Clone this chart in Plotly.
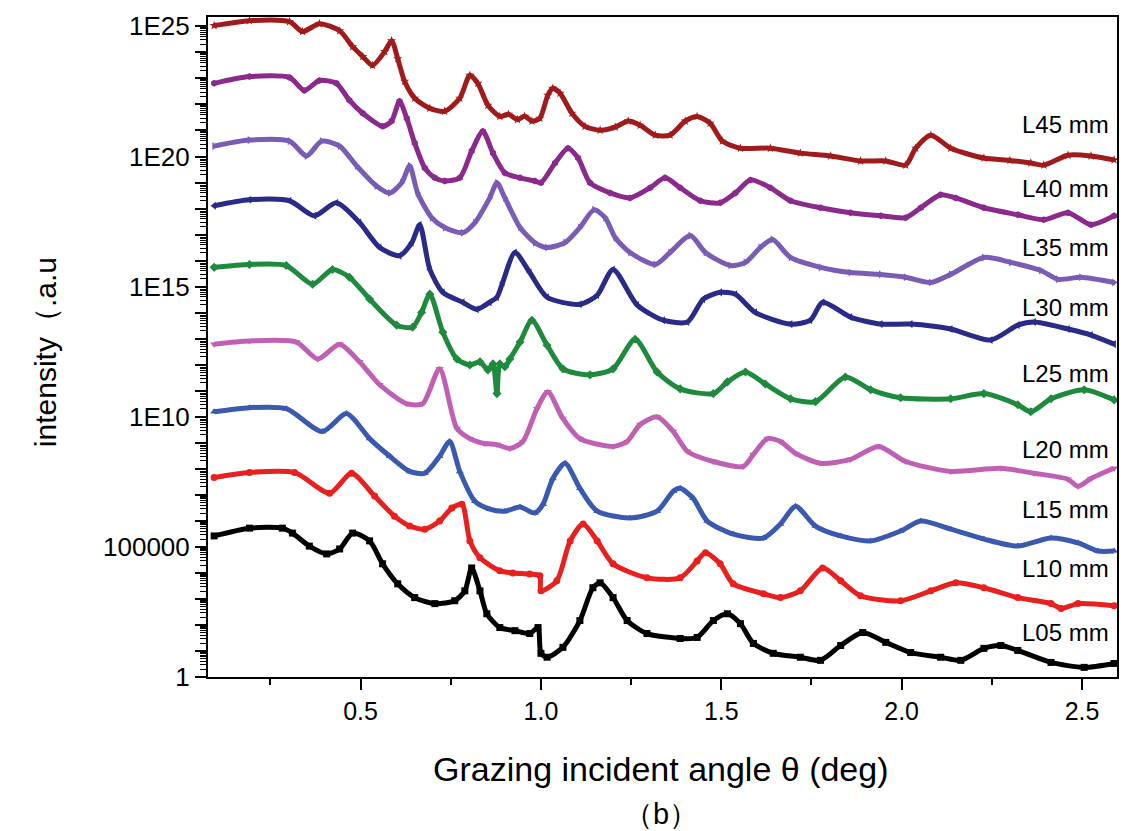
import plotly.graph_objects as go

# ---------------- data (x = grazing angle in deg, values = log10 intensity) -------------
names = ["L05 mm", "L10 mm", "L15 mm", "L20 mm", "L25 mm", "L30 mm", "L35 mm", "L40 mm", "L45 mm"]

x_L05 = [0.094, 0.192, 0.283, 0.311, 0.358, 0.406, 0.442, 0.478, 0.525, 0.561, 0.603, 0.65, 0.706, 0.761, 0.789,
         0.808, 0.831, 0.85, 0.886, 0.928, 0.969, 0.992, 1.0, 1.017, 1.061, 1.108, 1.144, 1.164, 1.2, 1.239,
         1.294, 1.386, 1.433, 1.478, 1.517, 1.553, 1.589, 1.644, 1.719, 1.775, 1.831, 1.892, 1.956, 2.025, 2.108,
         2.164, 2.228, 2.275, 2.322, 2.414, 2.506, 2.589]
lg_L05 = [5.42, 5.72, 5.72, 5.53, 5.03, 4.73, 4.92, 5.53, 5.23, 4.35, 3.58, 3.05, 2.82, 2.93, 3.31,
          4.19, 3.31, 2.43, 1.90, 1.78, 1.67, 1.90, 0.91, 0.76, 1.14, 2.17, 3.43, 3.62, 3.05, 2.17,
          1.67, 1.48, 1.52, 2.17, 2.43, 2.05, 1.29, 0.91, 0.76, 0.64, 1.21, 1.71, 1.33, 0.94, 0.76,
          0.64, 1.10, 1.21, 1.02, 0.56, 0.37, 0.52]

x_L10 = [0.094, 0.192, 0.317, 0.414, 0.475, 0.539, 0.594, 0.636, 0.678, 0.719, 0.753, 0.781, 0.803, 0.831, 0.886,
         0.922, 0.969, 0.997, 1.0, 1.044, 1.081, 1.117, 1.156, 1.2, 1.294, 1.386, 1.433, 1.456, 1.497, 1.533,
         1.617, 1.664, 1.719, 1.781, 1.831, 1.886, 1.997, 2.081, 2.15, 2.228, 2.322, 2.414, 2.442, 2.489, 2.589]
lg_L10 = [7.67, 7.86, 7.86, 7.06, 7.83, 6.95, 6.18, 5.80, 5.68, 5.99, 6.49, 6.64, 5.23, 4.58, 4.08,
          4.00, 3.96, 3.89, 3.31, 3.70, 5.23, 5.88, 5.23, 4.35, 3.81, 3.81, 4.46, 4.77, 4.35, 3.58,
          3.20, 3.05, 3.31, 4.19, 3.70, 3.12, 2.93, 3.31, 3.62, 3.43, 3.05, 2.82, 2.63, 2.82, 2.74]

x_L15 = [0.094, 0.192, 0.294, 0.394, 0.461, 0.525, 0.581, 0.636, 0.678, 0.719, 0.747, 0.775, 0.817, 0.858, 0.9,
         0.942, 0.983, 1.006, 1.033, 1.067, 1.108, 1.156, 1.247, 1.322, 1.367, 1.386, 1.422, 1.461, 1.533, 1.617,
         1.664, 1.706, 1.761, 1.831, 1.914, 1.997, 2.053, 2.136, 2.228, 2.322, 2.414, 2.489, 2.544, 2.589]
lg_L15 = [10.19, 10.35, 10.31, 9.43, 10.12, 9.16, 8.48, 7.90, 7.83, 8.48, 9.05, 7.90, 6.75, 6.45, 6.37,
          6.53, 6.30, 6.64, 7.63, 8.21, 7.25, 6.37, 6.11, 6.37, 7.14, 7.25, 6.87, 5.99, 5.49, 5.34,
          5.88, 6.56, 5.80, 5.42, 5.23, 5.61, 5.99, 5.68, 5.30, 5.03, 5.34, 5.15, 4.84, 4.84]

x_L20 = [0.094, 0.192, 0.322, 0.381, 0.442, 0.497, 0.553, 0.628, 0.672, 0.719, 0.767, 0.803, 0.844, 0.878, 0.914,
         0.95, 0.989, 1.019, 1.061, 1.108, 1.2, 1.239, 1.275, 1.322, 1.367, 1.406, 1.478, 1.561, 1.589, 1.628,
         1.664, 1.706, 1.775, 1.858, 1.936, 2.011, 2.136, 2.275, 2.367, 2.461, 2.489, 2.525, 2.589]
lg_L20 = [12.79, 12.91, 12.87, 12.22, 12.79, 12.11, 11.23, 10.50, 10.50, 11.84, 9.55, 9.16, 8.97, 8.93, 8.78,
          9.05, 10.31, 10.96, 9.93, 9.16, 8.86, 9.05, 9.70, 10.00, 9.43, 8.67, 8.28, 8.09, 8.55, 9.16,
          9.05, 8.59, 8.21, 8.36, 8.86, 8.28, 7.90, 8.02, 7.83, 7.60, 7.33, 7.63, 8.02]

x_L25 = [0.094, 0.192, 0.294, 0.367, 0.422, 0.469, 0.525, 0.6, 0.644, 0.669, 0.692, 0.728, 0.767, 0.803, 0.831,
         0.853, 0.867, 0.878, 0.886, 0.9, 0.914, 0.942, 0.975, 1.017, 1.061, 1.136, 1.2, 1.261, 1.322, 1.386,
         1.478, 1.517, 1.567, 1.622, 1.692, 1.761, 1.844, 1.914, 1.997, 2.136, 2.228, 2.322, 2.358, 2.414, 2.506,
         2.589]
lg_L25 = [15.74, 15.85, 15.81, 15.09, 15.66, 15.36, 14.52, 13.52, 13.44, 14.01, 14.71, 13.25, 12.22, 11.99, 12.11,
          11.80, 12.03, 10.89, 12.03, 11.92, 12.22, 12.87, 13.71, 12.75, 11.84, 11.61, 11.84, 12.98, 11.72, 11.07,
          10.89, 11.34, 11.72, 11.26, 10.69, 10.58, 11.53, 11.04, 10.73, 10.69, 10.89, 10.46, 10.19, 10.69, 11.04,
          10.65]

x_L30 = [0.094, 0.192, 0.303, 0.372, 0.433, 0.497, 0.553, 0.608, 0.642, 0.664, 0.692, 0.728, 0.783, 0.822, 0.858,
         0.878, 0.894, 0.928, 0.969, 1.017, 1.108, 1.156, 1.2, 1.267, 1.339, 1.406, 1.45, 1.497, 1.539, 1.594,
         1.692, 1.747, 1.781, 1.858, 1.942, 2.025, 2.136, 2.247, 2.322, 2.367, 2.461, 2.525, 2.589]
lg_L30 = [18.11, 18.34, 18.30, 17.72, 18.22, 17.46, 16.50, 16.19, 16.69, 17.38, 15.66, 14.78, 14.40, 14.13, 14.40,
          14.59, 15.16, 16.31, 15.54, 14.59, 14.32, 14.67, 15.66, 14.29, 13.71, 13.64, 14.52, 14.78, 14.71, 14.01,
          13.56, 13.71, 14.40, 13.83, 13.56, 13.56, 13.37, 12.95, 13.52, 13.64, 13.37, 13.14, 12.79]

x_L35 = [0.094, 0.192, 0.303, 0.35, 0.392, 0.442, 0.489, 0.544, 0.581, 0.614, 0.636, 0.658, 0.697, 0.733, 0.783,
         0.817, 0.858, 0.878, 0.9, 0.942, 0.983, 1.017, 1.067, 1.108, 1.147, 1.178, 1.206, 1.247, 1.317, 1.358,
         1.414, 1.456, 1.525, 1.567, 1.608, 1.642, 1.692, 1.775, 1.858, 1.942, 2.011, 2.081, 2.136, 2.228, 2.303,
         2.386, 2.433, 2.497, 2.589]
lg_L35 = [20.40, 20.63, 20.59, 20.02, 20.59, 20.40, 19.64, 18.87, 18.60, 18.99, 19.64, 18.60, 17.65, 17.27, 17.07,
          17.46, 18.41, 18.99, 18.41, 17.27, 16.69, 16.50, 16.69, 17.27, 17.95, 17.65, 16.88, 16.31, 15.85, 16.31,
          16.96, 16.31, 15.81, 15.93, 16.50, 16.81, 16.12, 15.74, 15.54, 15.47, 15.36, 15.16, 15.47, 16.12, 15.93,
          15.62, 15.28, 15.36, 15.16]

x_L40 = [0.094, 0.192, 0.303, 0.344, 0.386, 0.433, 0.469, 0.506, 0.561, 0.586, 0.608, 0.628, 0.65, 0.678, 0.706,
         0.733, 0.775, 0.808, 0.839, 0.867, 0.9, 0.942, 0.983, 1.0, 1.039, 1.075, 1.103, 1.136, 1.192, 1.247,
         1.303, 1.344, 1.386, 1.442, 1.497, 1.539, 1.581, 1.636, 1.692, 1.775, 1.858, 1.942, 2.011, 2.053, 2.108,
         2.15, 2.228, 2.322, 2.394, 2.461, 2.525, 2.589]
lg_L40 = [22.81, 23.07, 23.04, 22.54, 22.92, 22.81, 22.16, 21.66, 21.16, 21.36, 22.12, 21.47, 20.52, 19.56, 19.18,
          19.06, 19.18, 20.21, 20.97, 20.13, 19.37, 19.18, 19.06, 18.99, 19.75, 20.32, 19.94, 18.99, 18.60, 18.41,
          18.80, 19.18, 18.80, 18.30, 18.22, 18.60, 19.10, 18.80, 18.30, 18.03, 17.84, 17.72, 17.65, 18.03, 18.53,
          18.41, 18.03, 17.76, 17.57, 17.84, 17.38, 17.72]

x_L45 = [0.094, 0.192, 0.303, 0.339, 0.386, 0.442, 0.478, 0.506, 0.533, 0.567, 0.586, 0.603, 0.622, 0.65, 0.692,
         0.733, 0.775, 0.803, 0.825, 0.853, 0.886, 0.91, 0.935, 0.955, 0.975, 0.997, 1.019, 1.033, 1.053, 1.086,
         1.122, 1.164, 1.206, 1.242, 1.275, 1.317, 1.358, 1.4, 1.433, 1.469, 1.503, 1.553, 1.636, 1.719, 1.803,
         1.886, 1.956, 2.011, 2.039, 2.081, 2.136, 2.228, 2.30, 2.358, 2.394, 2.461, 2.525, 2.589]
lg_L45 = [25.03, 25.22, 25.18, 24.80, 25.10, 24.83, 24.22, 23.84, 23.50, 24.03, 24.45, 23.76, 22.89, 22.24, 21.85,
          21.74, 22.24, 23.12, 22.81, 21.97, 21.54, 21.62, 21.42, 21.55, 21.36, 21.47, 22.35, 22.62, 22.43, 21.66,
          21.16, 21.01, 21.13, 21.36, 21.20, 20.82, 20.82, 21.36, 21.54, 21.28, 20.59, 20.32, 20.32, 20.13, 20.02,
          19.83, 19.83, 19.67, 20.32, 20.82, 20.32, 19.94, 19.85, 19.75, 19.67, 20.05, 20.02, 19.87]

xs = [x_L05, x_L10, x_L15, x_L20, x_L25, x_L30, x_L35, x_L40, x_L45]
lgs = [lg_L05, lg_L10, lg_L15, lg_L20, lg_L25, lg_L30, lg_L35, lg_L40, lg_L45]

# label heights (log10 units) for the curve names on the right
label_lg = [1.71, 4.16, 6.45, 8.74, 11.66, 14.21, 16.50, 18.76, 21.22]

x_tick_vals = [0.5, 1.0, 1.5, 2.0, 2.5]
x_tick_text = ["0.5", "1.0", "1.5", "2.0", "2.5"]
y_tick_text = {0: "1", 5: "100000", 10: "1E10", 15: "1E15", 20: "1E20", 25: "1E25"}

# ---------------- styles ----------------
colors = ["#000000", "#E8201E", "#3A5AB0", "#C060B4", "#1E8A3C", "#2A2A88", "#7A5CB6", "#8B2A8C", "#A01B1B"]
symbols = ["square", "circle", "triangle-up", "triangle-down", "diamond", "triangle-left", "triangle-right",
           "hexagon", "star"]
FONT = "Arial, 'Liberation Sans', sans-serif"

fig = go.Figure()
for nm, xv, lv, c, s in zip(names, xs, lgs, colors, symbols):
    fig.add_trace(go.Scatter(
        x=xv, y=[10 ** v for v in lv], mode="lines+markers", name=nm,
        line=dict(color=c, width=5, shape="spline", smoothing=0.7),
        marker=dict(symbol=s, size=7, color=c, line=dict(width=0)),
        showlegend=False,
    ))

decades = list(range(0, 26))
y_major = [10.0 ** d for d in decades]
y_major_text = [y_tick_text.get(d, "") for d in decades]
y_minor = [k * 10.0 ** d for d in range(0, 25) for k in range(2, 10)]

fig.update_layout(
    width=1143, height=831,
    margin=dict(l=208, r=26, t=13, b=154),
    paper_bgcolor="white", plot_bgcolor="white",
    font=dict(family=FONT, color="black", size=25),
    xaxis=dict(
        range=[0.077, 2.597], showgrid=False, zeroline=False,
        showline=True, linecolor="black", linewidth=2, mirror=True,
        tickmode="array", tickvals=x_tick_vals, ticktext=x_tick_text,
        ticks="outside", ticklen=11, tickwidth=2, tickcolor="black",
        tickfont=dict(size=25, family=FONT),
        minor=dict(tickmode="array", tickvals=[0.25, 0.75, 1.25, 1.75, 2.25],
                   ticks="outside", ticklen=6, tickwidth=2, tickcolor="black"),
    ),
    yaxis=dict(
        type="log", range=[0, 25.36], showgrid=False, zeroline=False,
        showline=True, linecolor="black", linewidth=2, mirror=True,
        tickmode="array", tickvals=y_major, ticktext=y_major_text,
        ticks="outside", ticklen=11, tickwidth=2, tickcolor="black",
        tickfont=dict(size=26, family=FONT),
        minor=dict(tickmode="array", tickvals=y_minor,
                   ticks="outside", ticklen=6, tickwidth=1, tickcolor="black"),
    ),
)

annotations = []
for nm, ly in zip(names, label_lg):
    annotations.append(dict(x=0.9934, xref="paper", y=ly, yref="y", text=nm, showarrow=False,
                            xanchor="right", yanchor="middle", font=dict(size=24, family=FONT, color="black")))
annotations.append(dict(x=0.498, xref="paper", y=-0.14, yref="paper", text="Grazing incident angle θ (deg)",
                        showarrow=False, xanchor="center", yanchor="middle",
                        font=dict(size=34, family=FONT, color="black")))
annotations.append(dict(x=0.498, xref="paper", y=-0.208, yref="paper", text="（b）",
                        showarrow=False, xanchor="center", yanchor="middle",
                        font=dict(size=29, family=FONT, color="black")))
annotations.append(dict(x=-0.178, xref="paper", y=0.4925, yref="paper", text="intensity（.a.u",
                        showarrow=False, xanchor="center", yanchor="middle", textangle=-90,
                        font=dict(size=30, family=FONT, color="black")))
fig.update_layout(annotations=annotations)

fig.write_html("out.html")
